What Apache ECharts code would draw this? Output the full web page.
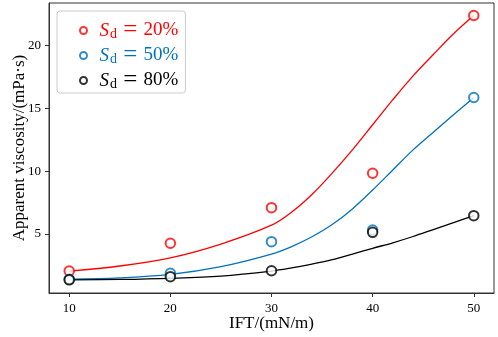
<!DOCTYPE html>
<html>
<head>
<meta charset="utf-8">
<script src="https://cdn.jsdelivr.net/npm/echarts@6/dist/echarts.min.js"></script>
<style>
  html, body { margin: 0; padding: 0; background: #fff; }
  #main { width: 498px; height: 337px; }
</style>
</head>
<body>
<div id="main"></div>
<script>
// measured points
var ift = [10, 20, 30, 40, 50];
var sd20 = [2.05, 4.26, 7.1, 9.84, 22.4];
var sd50 = [1.39, 1.87, 4.39, 5.32, 15.87];
var sd80 = [1.35, 1.6, 2.07, 5.13, 6.46];
var labels = ['Sd = 20%', 'Sd = 50%', 'Sd = 80%'];
var pcts = ['20%', '50%', '80%'];

// fitted curves
var fitIFT = [10, 15, 20, 25, 30, 32, 34, 36, 38, 40, 42, 44, 46, 48, 50];
var fit20 = [2.05, 2.45, 3.1, 4.2, 5.7, 6.75, 8.15, 9.85, 11.7, 13.7, 15.7, 17.6, 19.3, 20.95, 22.4];
var fit50 = [1.4, 1.5, 1.78, 2.4, 3.4, 4.0, 4.78, 5.75, 7.0, 8.5, 10.1, 11.7, 13.1, 14.5, 15.85];
var fit80 = [1.35, 1.38, 1.47, 1.65, 2.05, 2.3, 2.6, 2.95, 3.4, 3.86, 4.3, 4.8, 5.35, 5.9, 6.46];

var colors = ['#ff0000', '#0072bd', '#000000'];
var font = 'Liberation Serif, Times New Roman, serif';

function pairs(xs, ys) {
  return xs.map(function (x, i) { return [x, ys[i]]; });
}

var myChart = echarts.init(document.getElementById('main'));
var pts = [sd20, sd50, sd80];
var fits = [fit20, fit50, fit80];
var series = [];
for (var k = 0; k < 3; k++) {
  series.push({
    name: 'fit' + k,
    type: 'line',
    data: pairs(fitIFT, fits[k]),
    smooth: 0.35,
    showSymbol: false,
    lineStyle: { color: colors[k], width: 1.3 },
    z: 2
  });
  series.push({
    name: labels[k],
    type: 'scatter',
    data: pairs(ift, pts[k]),
    symbol: 'emptyCircle',
    symbolSize: 9.5,
    itemStyle: { color: colors[k], borderColor: colors[k], borderWidth: 1.2 },
    z: 3
  });
}

var option = {
  animation: false,
  grid: {
    left: 49, right: 4, top: 3, bottom: 44,
    outerBoundsMode: 'none',
    show: true, borderColor: '#333', borderWidth: 1
  },
  legend: {
    orient: 'vertical',
    left: 57, top: 11,
    padding: [7, 7, 0, 22],
    itemWidth: 22, itemHeight: 7,
    itemGap: 0,
    backgroundColor: '#fff',
    borderColor: '#cccccc', borderWidth: 1, borderRadius: 3,
    data: labels.map(function (n, i) {
      return { name: n, icon: 'emptyCircle', itemStyle: { color: colors[i], borderColor: colors[i], borderWidth: 1.2 }, textStyle: { color: colors[i] } };
    }),
    formatter: function (name) {
      return '{i|S}{s|d}{e| = }{t|' + pcts[labels.indexOf(name)] + '}';
    },
    textStyle: {
      fontFamily: font, fontSize: 19, lineHeight: 20,
      rich: {
        i: { fontFamily: font, fontSize: 19, fontStyle: 'italic', lineHeight: 20 },
        s: { fontFamily: font, fontSize: 14, lineHeight: 13, padding: [7, 0, 0, 1] },
        e: { fontFamily: font, fontSize: 25, lineHeight: 20 },
        t: { fontFamily: font, fontSize: 19, lineHeight: 20 }
      }
    }
  },
  xAxis: {
    type: 'value', min: 8, max: 52,
    name: 'IFT/(mN/m)', nameLocation: 'middle', nameGap: 22, nameMoveOverlap: false,
    nameTextStyle: { fontFamily: font, fontSize: 17, color: '#000' },
    axisLine: { show: true, lineStyle: { color: '#333' } },
    axisTick: { show: true, inside: false, length: 4, customValues: ift, lineStyle: { color: '#333' } },
    axisLabel: { customValues: ift, fontFamily: font, fontSize: 13, color: '#000', margin: 9 },
    splitLine: { show: false }
  },
  yAxis: {
    type: 'value', min: 0.3, max: 23.4,
    name: 'Apparent viscosity/(mPa·s)', nameLocation: 'middle', nameGap: 21, nameMoveOverlap: false,
    nameTextStyle: { fontFamily: font, fontSize: 17, color: '#000' },
    axisLine: { show: true, lineStyle: { color: '#333' } },
    axisTick: { show: true, inside: false, length: 4, customValues: [5, 10, 15, 20], lineStyle: { color: '#333' } },
    axisLabel: { customValues: [5, 10, 15, 20], fontFamily: font, fontSize: 13, color: '#000', margin: 8 },
    splitLine: { show: false }
  },
  series: series
};

myChart.setOption(option);
</script>
</body>
</html>
